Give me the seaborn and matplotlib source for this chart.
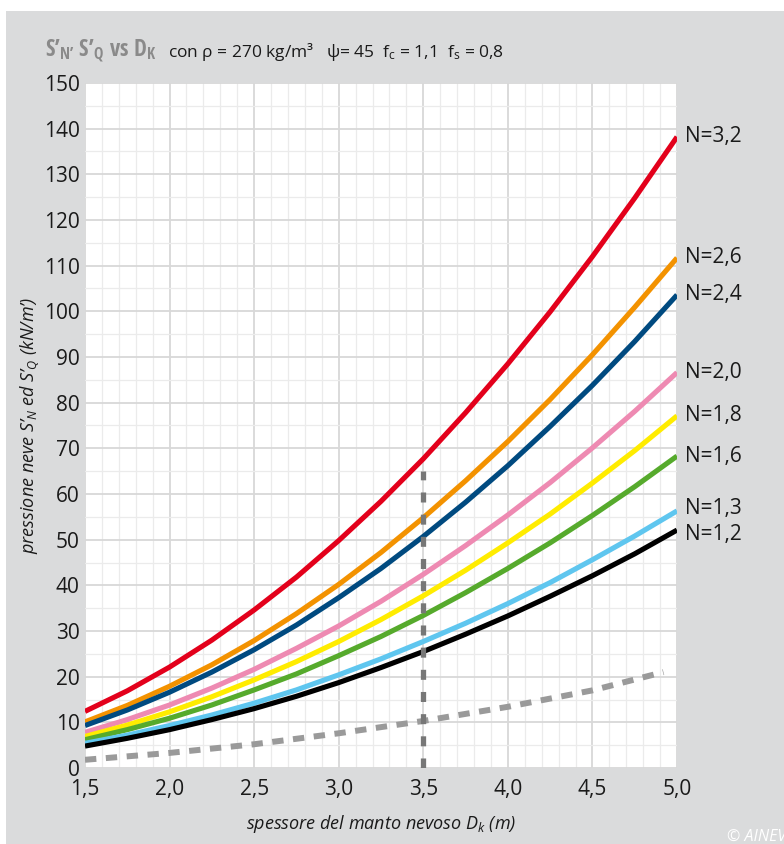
import numpy as np
import pandas as pd
import matplotlib
matplotlib.use("Agg")
import matplotlib.pyplot as plt
import seaborn as sns
from matplotlib import font_manager
from matplotlib.patches import Rectangle
from matplotlib.ticker import MultipleLocator

# spessore del manto nevoso (m)
spessore = [1.5, 1.75, 2.0, 2.25, 2.5, 2.75, 3.0, 3.25, 3.5, 3.75, 4.0, 4.25, 4.5, 4.75, 5.0]

# pressione neve (kN/m') per ogni valore di N
n_labels = ["N=3,2", "N=2,6", "N=2,4", "N=2,0", "N=1,8", "N=1,6", "N=1,3", "N=1,2"]
s_32 = [12.4, 16.9, 22.1, 28.0, 34.6, 41.8, 49.8, 58.4, 67.7, 77.8, 88.5, 99.9, 112.0, 124.8, 138.2]
s_26 = [10.1, 13.7, 17.9, 22.6, 27.9, 33.8, 40.2, 47.2, 54.8, 62.9, 71.5, 80.7, 90.5, 100.9, 111.7]
s_24 = [9.3, 12.7, 16.6, 21.0, 25.9, 31.3, 37.3, 43.7, 50.7, 58.2, 66.2, 74.8, 83.8, 93.4, 103.6]
s_20 = [7.8, 10.6, 13.8, 17.5, 21.6, 26.2, 31.1, 36.5, 42.4, 48.7, 55.4, 62.5, 70.1, 78.1, 86.6]
s_18 = [6.9, 9.4, 12.3, 15.6, 19.3, 23.3, 27.7, 32.5, 37.7, 43.3, 49.3, 55.6, 62.4, 69.5, 77.1]
s_16 = [6.2, 8.4, 10.9, 13.8, 17.1, 20.6, 24.6, 28.8, 33.4, 38.4, 43.7, 49.3, 55.3, 61.6, 68.3]
s_13 = [5.4, 7.2, 9.3, 11.6, 14.2, 17.1, 20.4, 23.9, 27.7, 31.7, 36.0, 40.6, 45.6, 50.8, 56.3]
s_12 = [4.8, 6.5, 8.4, 10.6, 13.0, 15.7, 18.7, 22.0, 25.5, 29.3, 33.3, 37.6, 42.1, 46.9, 52.1]
serie = [s_32, s_26, s_24, s_20, s_18, s_16, s_13, s_12]
colori = ["#e3001b", "#f39200", "#004a80", "#ee8ab2", "#ffec00", "#56aa2c", "#5fc6ef", "#000000"]

# linea tratteggiata inferiore
d_x = [1.5, 2.0, 2.5, 3.0, 3.5, 4.0, 4.5, 4.92]
d_y = [1.8, 3.3, 5.2, 7.6, 10.3, 13.4, 17.0, 21.0]
# linea verticale a Dk = 3,5
v_x = [3.5, 3.5]
v_y = [0, 65]

sns.set_theme(style="white")
names = {f.name for f in font_manager.fontManager.ttflist}
base = "Open Sans"
cond = "Open Sans Condensed" if "Open Sans Condensed" in names else base
plt.rcParams["font.family"] = [base, "DejaVu Sans"]
plt.rcParams["mathtext.fontset"] = "custom"
plt.rcParams["mathtext.rm"] = base
plt.rcParams["mathtext.it"] = base + ":italic"
plt.rcParams["mathtext.bf"] = cond + ":bold"

df = pd.DataFrame({
    "D": spessore * len(serie),
    "S": [v for s in serie for v in s],
    "N": [lab for lab in n_labels for _ in spessore],
})

fig = plt.figure(figsize=(7.84, 8.44), dpi=100, facecolor="white")
fig.patches.append(Rectangle((6 / 784, 0), 1, (844 - 11) / 844, transform=fig.transFigure,
                             facecolor="#dadbdc", edgecolor="none", zorder=-10))
ax = fig.add_axes([85 / 784, 76 / 844, 592 / 784, 685 / 844])
ax.set_facecolor("white")

sns.lineplot(data=df, x="D", y="S", hue="N", palette=dict(zip(n_labels, colori)),
             linewidth=3.7, legend=False, sort=False, ax=ax, zorder=3,
             solid_capstyle="butt", solid_joinstyle="round")

ax.plot(d_x, d_y, color="#9a9a9a", linewidth=4.3, dashes=(1.9, 1.6), zorder=2)
ax.plot(v_x, v_y, color="#777777", linewidth=3.8, dashes=(1.9, 2.3), zorder=4)

ax.set_xlim(1.5, 5.0)
ax.set_ylim(0, 150)
ax.xaxis.set_major_locator(MultipleLocator(0.5))
ax.xaxis.set_minor_locator(MultipleLocator(0.1))
ax.yaxis.set_major_locator(MultipleLocator(10))
ax.yaxis.set_minor_locator(MultipleLocator(5))
ax.grid(which="major", color="#d8d8d8", linewidth=1.3, zorder=0)
ax.grid(which="minor", color="#ebebeb", linewidth=0.9, zorder=0)
ax.set_axisbelow(True)
for sp in ax.spines.values():
    sp.set_visible(False)

ax.set_xticks([1.5, 2.0, 2.5, 3.0, 3.5, 4.0, 4.5, 5.0])
ax.set_xticklabels(["1,5", "2,0", "2,5", "3,0", "3,5", "4,0", "4,5", "5,0"])
ax.tick_params(axis="both", which="both", length=0, labelsize=15, colors="#1a1a1a")
ax.tick_params(axis="x", pad=8)
ax.tick_params(axis="y", pad=4)

ax.set_xlabel(r"spessore del manto nevoso D$_{k}$ (m)", fontsize=13, style="italic",
              color="#1a1a1a", labelpad=9)
ax.set_ylabel(r"pressione neve S’$_{N}$ ed S’$_{Q}$ (kN/m’)", fontsize=13, style="italic",
              color="#1a1a1a", labelpad=2)

# etichette N a destra delle curve
spost = [0, 0, 0, 0, 0, 0, 2, -3]
for lab, s, dy in zip(n_labels, serie, spost):
    ax.annotate(lab, xy=(spessore[-1], s[-1]), xytext=(6, dy), textcoords="offset points",
                va="center", ha="left", fontsize=15, color="#1a1a1a", annotation_clip=False)

# titolo: parte grigia in grassetto, poi i parametri
t1 = fig.text(45 / 784, 1 - 57 / 844, r"S’$_{\mathbf{N’}}$ S’$_{\mathbf{Q}}$ vs D$_{\mathbf{K}}$",
              fontsize=16.5, family=[cond, "DejaVu Sans"], weight="bold", color="#8a8a8a",
              va="baseline")
fig.canvas.draw()
x_end = t1.get_window_extent().x1
fig.text((x_end + 11) / 784, 1 - 57 / 844,
         r"con ρ = 270 kg/m³   ψ= 45  f$_{\mathrm{c}}$ = 1,1  f$_{\mathrm{s}}$ = 0,8",
         fontsize=12.5, color="#1a1a1a", va="baseline")

fig.text(727 / 784, 3 / 844, "© AINEVA", fontsize=11.5, style="italic", color="white",
         va="baseline")

fig.savefig("out.png", dpi=100, facecolor=fig.get_facecolor())
